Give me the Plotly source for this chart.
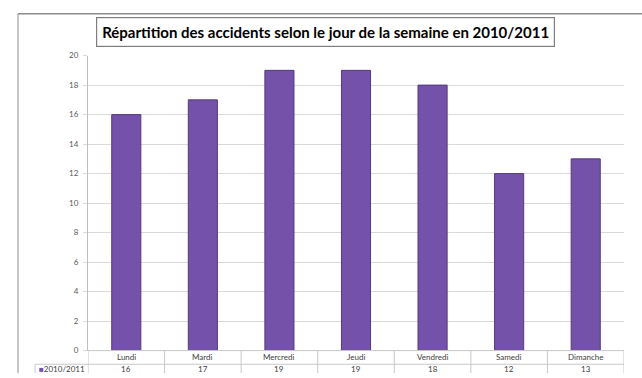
import plotly.graph_objects as go

# Accidents par jour de la semaine, saison 2010/2011
jours = ["Lundi", "Mardi", "Mercredi", "Jeudi", "Vendredi", "Samedi", "Dimanche"]
accidents = [16, 17, 19, 19, 18, 12, 13]
serie = "2010/2011"
y_ticks = [0, 2, 4, 6, 8, 10, 12, 14, 16, 18, 20]

W, H = 642, 378
px = lambda v: v / W          # horizontal pixel -> paper
py = lambda v: (H - v) / H    # vertical pixel -> paper

PLOT_L, PLOT_R = 88, 624
PLOT_T, PLOT_B = 52, 355
ROW_MID = 369
KEY_L = 35

fig = go.Figure()
fig.add_trace(go.Bar(
    x=list(range(len(jours))),
    y=accidents,
    marker=dict(color="#7452a9", line=dict(color="#55377f", width=1)),
    hoverinfo="x+y",
    showlegend=False,
))

grey_txt = "#595959"
fig.update_layout(
    width=W, height=H,
    margin=dict(l=0, r=0, t=0, b=0),
    paper_bgcolor="white", plot_bgcolor="white",
    bargap=0.62,
    font=dict(family="Lato, 'Open Sans', sans-serif", color=grey_txt),
    xaxis=dict(
        domain=[px(PLOT_L), px(PLOT_R)],
        range=[-0.5, len(jours) - 0.5],
        showticklabels=False, showgrid=False, zeroline=False,
        showline=False, ticks="",
    ),
    yaxis=dict(
        domain=[py(PLOT_B), py(PLOT_T)],
        range=[0, 20],
        tickvals=y_ticks,
        tickfont=dict(size=8, color=grey_txt),
        showgrid=True, gridcolor="#d9d9d9", gridwidth=1,
        zeroline=False,
        showline=True, linecolor="#bfbfbf", linewidth=1,
        ticks="outside", ticklen=4, tickcolor="#d9d9d9",
        ticklabelstandoff=3,
    ),
)

shapes = []
line_grey = dict(color="#c8c8c8", width=1)
# outer frame (top and left)
shapes.append(dict(type="line", xref="paper", yref="paper",
                   x0=px(18), x1=px(642), y0=py(9), y1=py(9),
                   line=dict(color="#8c8c8c", width=1.5)))
shapes.append(dict(type="line", xref="paper", yref="paper",
                   x0=px(18), x1=px(18), y0=py(9), y1=0,
                   line=dict(color="#8c8c8c", width=1)))
# data table: horizontal rules
for yy, x0 in [(PLOT_B, PLOT_L), (ROW_MID, KEY_L)]:
    shapes.append(dict(type="line", xref="paper", yref="paper",
                       x0=px(x0), x1=px(PLOT_R), y0=py(yy), y1=py(yy),
                       line=line_grey))
shapes.append(dict(type="line", xref="paper", yref="paper",
                   x0=px(KEY_L), x1=px(KEY_L), y0=0, y1=py(ROW_MID),
                   line=line_grey))
# data table: column separators at category boundaries
for i in range(len(jours) + 1):
    shapes.append(dict(type="line", xref="x", yref="paper",
                       x0=i - 0.5, x1=i - 0.5, y0=0, y1=py(PLOT_B),
                       line=line_grey))

cell_font = dict(size=8, color="#404040")
annotations = []
for i, (j, v) in enumerate(zip(jours, accidents)):
    annotations.append(dict(x=i, y=py((PLOT_B + ROW_MID) / 2), xref="x", yref="paper",
                            xanchor="center", yanchor="middle",
                            text=j, showarrow=False, font=cell_font))
    annotations.append(dict(x=i, y=py(374), xref="x", yref="paper",
                            xanchor="center", yanchor="middle",
                            text=str(v), showarrow=False, font=cell_font))
# series label cell with legend key
annotations.append(dict(x=px(KEY_L + 2), y=py(374), xref="paper", yref="paper",
                        xanchor="left", yanchor="middle", showarrow=False,
                        text="<span style='color:#7452a9'>■</span>" + serie,
                        font=cell_font))
# boxed title
annotations.append(dict(x=px(326), y=py(28), xref="paper", yref="paper",
                        xanchor="center", yanchor="middle",
                        text="Répartition des accidents selon le jour de la semaine en 2010/2011",
                        showarrow=False,
                        font=dict(size=15, color="black", family="Lato, sans-serif", weight=700),
                        bordercolor="#7f7f7f", borderwidth=1.2, borderpad=5, bgcolor="white"))

fig.update_layout(shapes=shapes, annotations=annotations)
fig.write_html("out.html")
